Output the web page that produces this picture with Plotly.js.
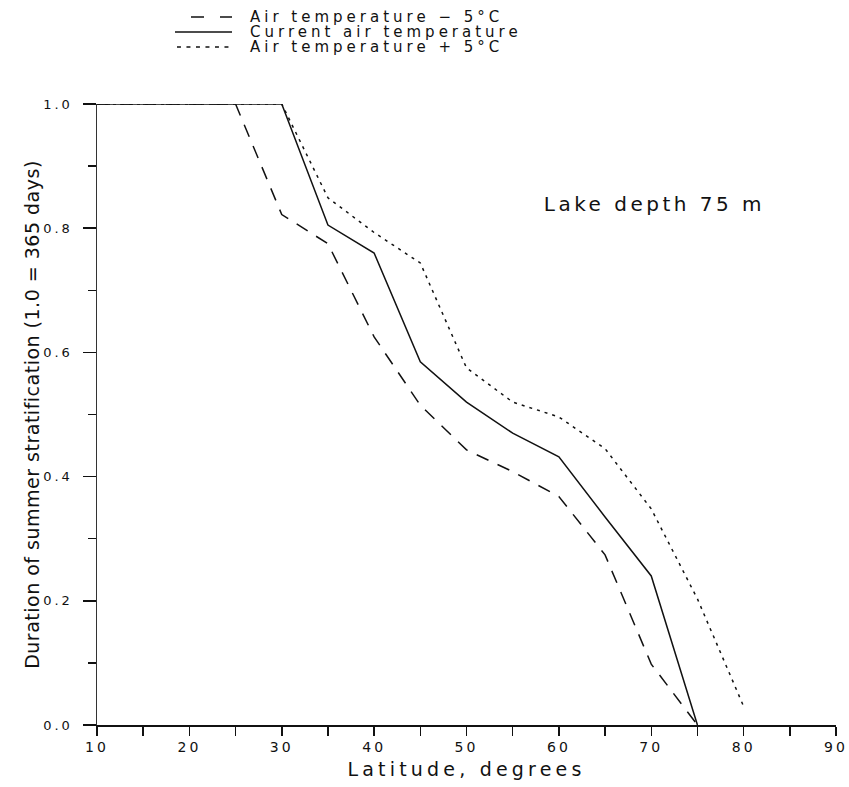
<!DOCTYPE html>
<html>
<head>
<meta charset="utf-8">
<script src="https://cdn.plot.ly/plotly-3.0.1.min.js"></script>
<style>
html,body{margin:0;padding:0;background:#fff;}
#chart{width:849px;height:787px;}
#chart .xtitle{letter-spacing:4.2px;}
#chart .ytitle{letter-spacing:0.5px;}
#chart .xtick text{letter-spacing:3px;}
#chart .ytick text{letter-spacing:3px;}
#chart g.annotation text{letter-spacing:4px;}
#chart g.annotation[data-index="0"] text{letter-spacing:3.5px;}
</style>
</head>
<body>
<div id="chart"></div>
<script>
// Latitudes (degrees) and stratification duration (fraction of 365 days)
const latMinus5 = [10, 25, 30, 35, 40, 45, 50, 55, 60, 65, 70, 75];
const durMinus5 = [1.0, 1.0, 0.822, 0.775, 0.625, 0.515, 0.443, 0.408, 0.368, 0.274, 0.098, 0.0];

const latCurrent = [10, 30, 35, 40, 45, 50, 55, 60, 65, 70, 75];
const durCurrent = [1.0, 1.0, 0.805, 0.76, 0.585, 0.52, 0.47, 0.432, 0.335, 0.24, 0.0];

const latPlus5 = [10, 30, 35, 40, 45, 50, 55, 60, 65, 70, 75, 80];
const durPlus5 = [1.0, 1.0, 0.849, 0.793, 0.744, 0.575, 0.52, 0.496, 0.445, 0.348, 0.203, 0.03];

const seriesNames = ["Air temperature \u2212 5\u00B0C", "Current air temperature", "Air temperature + 5\u00B0C"];
const seriesDash = ["13px,10px", "solid", "3px,5px"];
const legendDash = ["13px,16px", "solid", "4px,5.5px"];
const xTickVals = [10, 20, 30, 40, 50, 60, 70, 80, 90];
const yTickVals = [0.0, 0.2, 0.4, 0.6, 0.8, 1.0];
const yTickText = ["0.0", "0.2", "0.4", "0.6", "0.8", "1.0"];
const annotationText = "Lake depth 75 m";

const FONT = "DejaVu Sans, Liberation Sans, sans-serif";
const INK = "#111";

const seriesX = [latMinus5, latCurrent, latPlus5];
const seriesY = [durMinus5, durCurrent, durPlus5];

const traces = seriesNames.map((nm, i) => ({
  x: seriesX[i], y: seriesY[i], name: nm, mode: "lines", showlegend: false,
  line: {color: INK, width: 1.5, dash: seriesDash[i]}
}));

// Hand-built legend block above the plot (paper coordinates)
const legendRowsY = [1.1401, 1.1159, 1.0918];
const legendSampleX0 = [0.1272, 0.1055, 0.1082];
const legendSampleX1 = 0.1827;
const legendTextX = 0.2043;

const shapes = seriesNames.map((nm, i) => ({
  type: "line", xref: "paper", yref: "paper",
  x0: legendSampleX0[i], x1: legendSampleX1, y0: legendRowsY[i], y1: legendRowsY[i],
  line: {color: INK, width: 1.5, dash: legendDash[i]}
}));

const annotations = [
  {x: 70.4, y: 0.839, xref: "x", yref: "y", text: annotationText, showarrow: false,
   font: {size: 20, family: FONT, color: INK}}
].concat(seriesNames.map((nm, i) => ({
  x: legendTextX, y: legendRowsY[i], xref: "paper", yref: "paper", xanchor: "left", yanchor: "middle",
  align: "left", text: nm, showarrow: false, font: {size: 15, family: FONT, color: INK}
})));

const layout = {
  width: 849, height: 787,
  margin: {l: 97, r: 13, t: 104, b: 62, autoexpand: false},
  paper_bgcolor: "#fff", plot_bgcolor: "#fff",
  font: {family: FONT, color: INK, size: 15},
  showlegend: false,
  xaxis: {range: [10, 90], tickvals: xTickVals, ticks: "outside", ticklen: 9, tickwidth: 1.5,
          tickcolor: INK, showline: true, linecolor: INK, linewidth: 1.5,
          showgrid: false, zeroline: false, tickfont: {size: 14},
          minor: {dtick: 5, tick0: 10, ticks: "outside", ticklen: 9, tickwidth: 1.5, tickcolor: INK, showgrid: false},
          title: {text: "Latitude, degrees", font: {size: 19}, standoff: 8}},
  yaxis: {range: [0, 1], tickvals: yTickVals, ticktext: yTickText, ticks: "outside", ticklen: 13, tickwidth: 1.5,
          tickcolor: INK, showline: true, linecolor: "#333", linewidth: 1.5,
          showgrid: false, zeroline: false, tickfont: {size: 13}, ticklabelstandoff: 7,
          minor: {dtick: 0.1, tick0: 0, ticks: "outside", ticklen: 8, tickwidth: 1.5, tickcolor: INK, showgrid: false},
          title: {text: "Duration of summer stratification (1.0 = 365 days)", font: {size: 19}, standoff: 7}},
  shapes: shapes,
  annotations: annotations
};

Plotly.newPlot("chart", traces, layout, {staticPlot: true, displayModeBar: false});
</script>
</body>
</html>
